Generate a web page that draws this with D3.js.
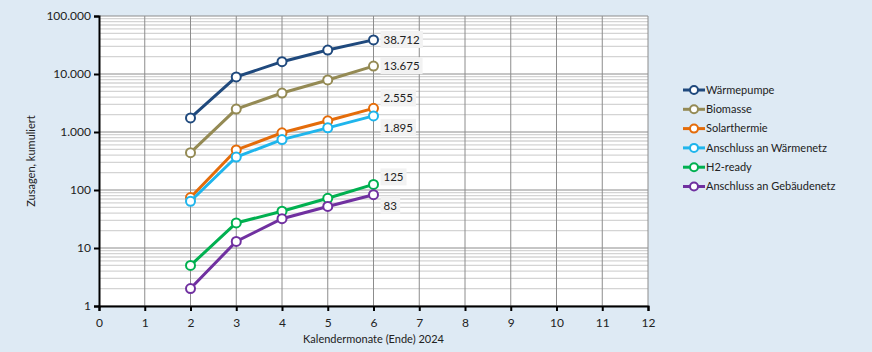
<!DOCTYPE html>
<html>
<meta charset="utf-8" />
<head>
<title>Zusagen kumuliert</title>
<script src="https://cdn.jsdelivr.net/npm/d3@7"></script>
<style>
	body { margin:0; background:#deeaf4; }
	svg { display:block; font-family: Lato, "Open Sans", sans-serif; }
</style>
</head>
<body>
<svg width="872" height="352"></svg>
<script>
// months (end of calendar month, 2024)
let months = [2, 3, 4, 5, 6];
let seriesNames = ['Wärmepumpe', 'Biomasse', 'Solarthermie', 'Anschluss an Wärmenetz', 'H2-ready', 'Anschluss an Gebäudenetz'];
let waermepumpe = [1750, 8900, 16300, 25900, 38712];
let biomasse = [440, 2480, 4700, 7900, 13675];
let solarthermie = [74, 490, 970, 1560, 2555];
let waermenetz = [64, 370, 740, 1180, 1895];
let h2ready = [5, 27, 43, 72, 125];
let gebaeudenetz = [2, 13, 32, 52, 83];
let lastLabels = ['38.712', '13.675', '2.555', '1.895', '125', '83'];
let yTicks = [1, 10, 100, 1000, 10000, 100000];
let xTicks = d3.range(0, 13);

let colors = ['#1f497d', '#948a54', '#e46c0a', '#1fb5ec', '#00b050', '#7030a0'];
let allSeries = [waermepumpe, biomasse, solarthermie, waermenetz, h2ready, gebaeudenetz];
// label offset above (-) or below (+) the last point
let labelDy = [0, 0, -10, 12, -7, 11];

let svg = d3.select('svg');
let m = { left: 99, right: 224, top: 16, bottom: 46 };
let w = 872 - m.left - m.right, h = 352 - m.top - m.bottom;
let g = svg.append('g').attr('transform', `translate(${m.left},${m.top})`);

let x = d3.scaleLinear().domain([0, 12]).range([0, w]);
let y = d3.scaleLog().domain([1, 100000]).range([h, 0]);

g.append('rect').attr('width', w).attr('height', h).style('fill', 'white');

// minor log gridlines
let minor = [];
for (let d = 1; d < 100000; d *= 10) for (let k = 2; k <= 9; k++) minor.push(d * k);
g.selectAll('.minor').data(minor).enter().append('line')
	.attr('x1', 0).attr('x2', w)
	.attr('y1', d => y(d)).attr('y2', d => y(d))
	.style('stroke', '#d4d4d4').style('stroke-width', '1.3px');

g.selectAll('.major').data(yTicks).enter().append('line')
	.attr('x1', 0).attr('x2', w)
	.attr('y1', d => y(d)).attr('y2', d => y(d))
	.style('stroke', '#8c8c8c').style('stroke-width', '1px');

g.selectAll('.vgrid').data(xTicks.slice(1)).enter().append('line')
	.attr('x1', d => x(d)).attr('x2', d => x(d))
	.attr('y1', 0).attr('y2', h)
	.style('stroke', '#8c8c8c').style('stroke-width', '1px');

// axes
let yAxis = g.append('g').call(d3.axisLeft(y).tickValues(yTicks).tickSize(5).tickPadding(3)
	.tickFormat(d => d3.format(',')(d).replace(/,/g, '.')));
let xAxis = g.append('g').attr('transform', `translate(0,${h})`)
	.call(d3.axisBottom(x).tickValues(xTicks).tickSize(5).tickPadding(5));
[yAxis, xAxis].forEach(a => {
	a.select('.domain').style('stroke', '#000').style('stroke-width', '2px');
	a.selectAll('.tick line').style('stroke', '#000').style('stroke-width', '2px');
	a.selectAll('text').style('font-size', '12px').style('fill', '#222').style('font-family', 'Lato, sans-serif');
});
xAxis.selectAll('.tick text').attr('dy', '0.9em');

// lines
let line = d3.line().x((d, i) => x(months[i])).y(d => y(d));
allSeries.forEach((s, i) => {
	g.append('path').datum(s).attr('d', line)
		.style('fill', 'none').style('stroke', colors[i]).style('stroke-width', '3px');
	g.selectAll('.pt' + i).data(s).enter().append('circle')
		.attr('cx', (d, j) => x(months[j])).attr('cy', d => y(d)).attr('r', 4.5)
		.style('fill', 'white').style('stroke', colors[i]).style('stroke-width', '2px');

	let lx = x(months[months.length - 1]) + 6, ly = y(s[s.length - 1]) + labelDy[i];
	let lbl = g.append('g').attr('transform', `translate(${lx},${ly})`);
	let t = lbl.append('text').text(lastLabels[i]).attr('x', 4).attr('dy', '0.35em')
		.style('font-size', '11.5px').style('fill', '#222');
	let bb = t.node().getBBox();
	lbl.insert('rect', 'text').attr('x', bb.x - 3).attr('y', bb.y - 2)
		.attr('width', bb.width + 6).attr('height', bb.height + 4).style('fill', '#f2f2f2');
});

// axis titles
svg.append('text').attr('transform', 'translate(35,161) rotate(-90)')
	.attr('text-anchor', 'middle').style('font-size', '11px').style('fill', '#222')
	.text('Zusagen, kumuliert');
svg.append('text').attr('x', m.left + w / 2).attr('y', 343)
	.attr('text-anchor', 'middle').style('font-size', '11px').style('fill', '#222')
	.text('Kalendermonate (Ende) 2024');

// legend
let legend = svg.append('g').attr('transform', 'translate(683,90)');
seriesNames.forEach((n, i) => {
	let row = legend.append('g').attr('transform', `translate(0,${i * 19.3})`);
	row.append('line').attr('x1', 0).attr('x2', 22).style('stroke', colors[i]).style('stroke-width', '3px');
	row.append('circle').attr('cx', 11).attr('r', 4).style('fill', 'white')
		.style('stroke', colors[i]).style('stroke-width', '2px');
	row.append('text').attr('x', 23).attr('dy', '0.35em').style('font-size', '11px')
		.style('fill', '#222').text(n);
});
</script>
</body>
</html>
